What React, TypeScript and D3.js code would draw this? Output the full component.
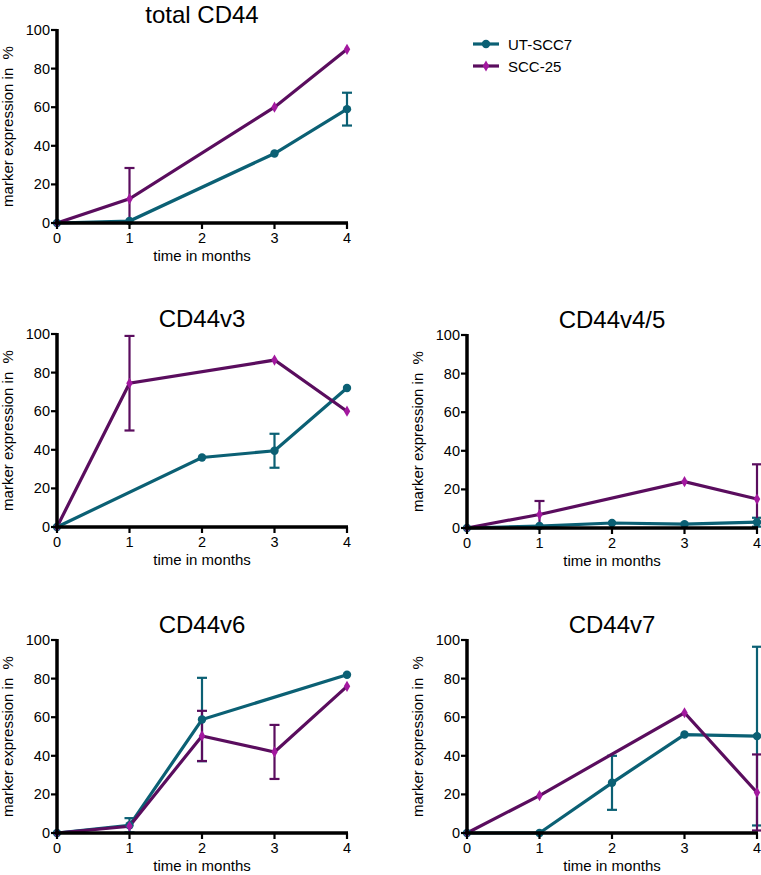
import React from 'react';
import * as d3 from 'd3';

const months = [0, 1, 2, 3, 4];
const yTicks = [0, 20, 40, 60, 80, 100];
const seriesNames = ['UT-SCC7', 'SCC-25'];
const panelTitles = ['total CD44', 'CD44v3', 'CD44v4/5', 'CD44v6', 'CD44v7'];

// values (null = not measured) and SD
const totalUT = [0, 1, null, 36, 59];
const totalUTErr = [0, 0, null, 0, 8.5];
const totalSCC = [0, 12.5, null, 60, 90];
const totalSCCErr = [0, 16, null, 0, 0];

const v3UT = [0, null, 36, 39.5, 72];
const v3UTErr = [0, null, 0, 8.8, 0];
const v3SCC = [0, 74.5, null, 86.5, 60];
const v3SCCErr = [0, 24.5, null, 0, 0];

const v45UT = [0, 1, 2.6, 2, 3];
const v45UTErr = [0, 0, 0, 0, 2.3];
const v45SCC = [0, 7, null, 24, 15];
const v45SCCErr = [0, 7, null, 0, 18];

const v6UT = [0, 4, 58.8, null, 82];
const v6UTErr = [0, 3.7, 21.6, null, 0];
const v6SCC = [0, 3.5, 50.3, 42, 76];
const v6SCCErr = [0, 0, 13, 14, 0];

const v7UT = [0, 0, 26, 51, 50.2];
const v7UTErr = [0, 0, 14, 0, 46.3];
const v7SCC = [0, 19.4, null, 62.3, 21];
const v7SCCErr = [0, 0, null, 0, 19.7];

const panelData = [
  [[totalUT, totalUTErr], [totalSCC, totalSCCErr]],
  [[v3UT, v3UTErr], [v3SCC, v3SCCErr]],
  [[v45UT, v45UTErr], [v45SCC, v45SCCErr]],
  [[v6UT, v6UTErr], [v6SCC, v6SCCErr]],
  [[v7UT, v7UTErr], [v7SCC, v7SCCErr]],
];

const layout = [
  { x: 57, y: 30 },
  { x: 57, y: 334 },
  { x: 467, y: 335 },
  { x: 57, y: 640 },
  { x: 467, y: 640 },
];
const PW = 290;
const PH = 193;

const TEAL = '#0b6074';
const PURPLE_LINE = '#5a0d5e';
const PURPLE_MARK = '#a3189f';
const FONT = '"Liberation Sans", Arial, Helvetica, sans-serif';

const lineColors = [TEAL, PURPLE_LINE];
const markColors = [TEAL, PURPLE_MARK];
const diamond = d3.symbol().type(d3.symbolDiamond).size(36)() as string;

function Marker({ s, x, y }: { s: number; x: number; y: number }) {
  if (s === 0) return <circle cx={x} cy={y} r={4.2} fill={markColors[0]} />;
  return <path d={diamond} transform={`translate(${x},${y})`} fill={markColors[1]} />;
}

function Panel({ idx }: { idx: number }) {
  const { x: ox, y: oy } = layout[idx];
  const xs = d3.scaleLinear().domain([0, 4]).range([ox, ox + PW]);
  const ys = d3.scaleLinear().domain([0, 100]).range([oy + PH, oy]);
  const series = panelData[idx];
  const line = d3
    .line<[number, number]>()
    .x((d) => xs(d[0]))
    .y((d) => ys(d[1]));
  return (
    <g>
      <text x={(xs(0) + xs(4)) / 2} y={oy - 7} textAnchor="middle" fontSize={24} fontFamily={FONT}>
        {panelTitles[idx]}
      </text>
      {series.map(([vals, errs], s) => {
        const pts: [number, number][] = [];
        vals.forEach((v, i) => {
          if (v !== null) pts.push([months[i], v as number]);
        });
        return (
          <g key={s}>
            <path d={line(pts) as string} fill="none" stroke={lineColors[s]} strokeWidth={3.2} />
            {vals.map((v, i) => {
              const e = errs[i];
              if (v === null || !e) return null;
              const cx = xs(months[i]);
              const hi = (v as number) + (e as number);
              const lo = Math.max(0, (v as number) - (e as number));
              return (
                <g key={'e' + i} stroke={lineColors[s]} strokeWidth={2.2}>
                  <line x1={cx} x2={cx} y1={ys(hi)} y2={ys(lo)} />
                  <line x1={cx - 5} x2={cx + 5} y1={ys(hi)} y2={ys(hi)} />
                  {(v as number) - (e as number) >= 0 && (
                    <line x1={cx - 5} x2={cx + 5} y1={ys(lo)} y2={ys(lo)} />
                  )}
                </g>
              );
            })}
          </g>
        );
      })}
      {series.map(([vals], s) => (
        <g key={'m' + s}>
          {vals.map((v, i) =>
            v === null ? null : <Marker key={i} s={s} x={xs(months[i])} y={ys(v as number)} />
          )}
        </g>
      ))}
      {/* axes */}
      <line x1={xs(0)} x2={xs(0)} y1={ys(100) - 1} y2={ys(0) + 1.5} stroke="#000" strokeWidth={3.5} />
      <line x1={xs(0) - 1.5} x2={xs(4) + 1} y1={ys(0)} y2={ys(0)} stroke="#000" strokeWidth={3.5} />
      {yTicks.map((t) => (
        <g key={'y' + t}>
          <line x1={xs(0) - 6} x2={xs(0)} y1={ys(t)} y2={ys(t)} stroke="#000" strokeWidth={2.2} />
          <text x={xs(0) - 7} y={ys(t) + 5} textAnchor="end" fontSize={14.5} fontFamily={FONT}>
            {t}
          </text>
        </g>
      ))}
      {months.map((m) => (
        <g key={'x' + m}>
          <line x1={xs(m)} x2={xs(m)} y1={ys(0)} y2={ys(0) + 6} stroke="#000" strokeWidth={2.2} />
          <text x={xs(m)} y={ys(0) + 20} textAnchor="middle" fontSize={14.5} fontFamily={FONT}>
            {m}
          </text>
        </g>
      ))}
      <text
        x={(xs(0) + xs(4)) / 2}
        y={ys(0) + 38}
        textAnchor="middle"
        fontSize={15}
        fontFamily={FONT}
      >
        time in months
      </text>
      <text
        transform={`translate(${xs(0) - 44},${(ys(0) + ys(100)) / 2}) rotate(-90)`}
        textAnchor="middle"
        fontSize={15}
        fontFamily={FONT}
        style={{ whiteSpace: 'pre' }}
      >
        {'marker expression in  %'}
      </text>
    </g>
  );
}

export default function App() {
  return (
    <svg
      width={761}
      height={875}
      style={{ position: 'absolute', left: 0, top: 0, background: '#fff' }}
    >
      <rect width={761} height={875} fill="#fff" />
      {panelTitles.map((_, i) => (
        <Panel key={i} idx={i} />
      ))}
      {seriesNames.map((n, s) => {
        const y = 44 + s * 22;
        return (
          <g key={n}>
            <line x1={473} x2={499} y1={y} y2={y} stroke={lineColors[s]} strokeWidth={3.2} />
            <Marker s={s} x={486} y={y} />
            <text x={508} y={y + 5.5} fontSize={15} fontFamily={FONT}>
              {n}
            </text>
          </g>
        );
      })}
    </svg>
  );
}
